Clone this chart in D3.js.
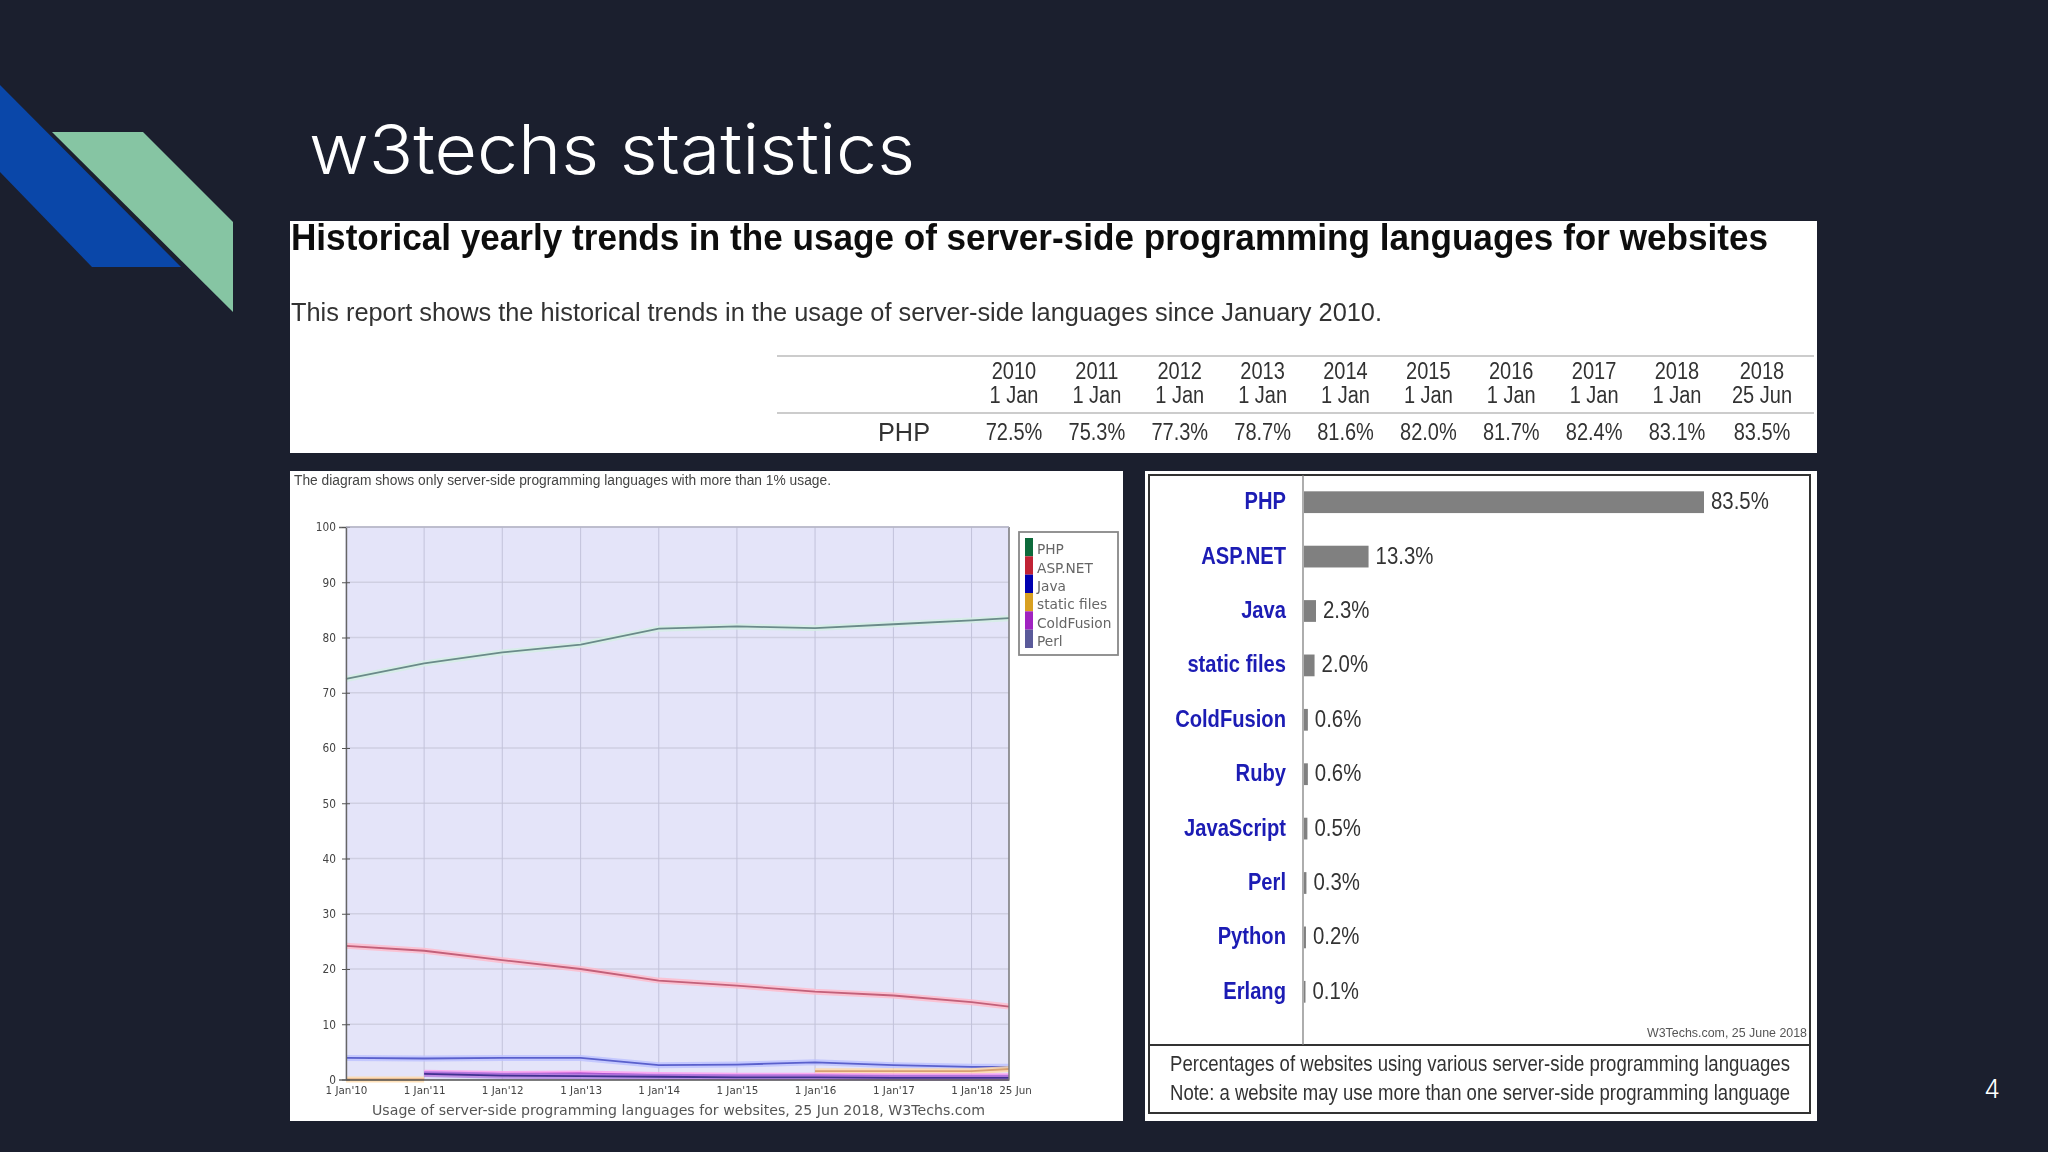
<!DOCTYPE html>
<html>
<head>
<meta charset="utf-8">
<script src="https://cdn.jsdelivr.net/npm/d3@7"></script>
<style>
  html, body { margin: 0; padding: 0; background: #1b1f2e; }
  svg { display: block; }
  text { font-family: "Liberation Sans", Arial, sans-serif; }
</style>
</head>
<body>
<svg id="slide" width="2048" height="1152"></svg>
<script>
// table at the top
const tableYears = ["2010", "2011", "2012", "2013", "2014", "2015", "2016", "2017", "2018", "2018"];
const tableDays = ["1 Jan", "1 Jan", "1 Jan", "1 Jan", "1 Jan", "1 Jan", "1 Jan", "1 Jan", "1 Jan", "25 Jun"];
const tableValues = ["72.5%", "75.3%", "77.3%", "78.7%", "81.6%", "82.0%", "81.7%", "82.4%", "83.1%", "83.5%"];

// line chart
const dates = ["2010-01-01", "2011-01-01", "2012-01-01", "2013-01-01", "2014-01-01", "2015-01-01", "2016-01-01", "2017-01-01", "2018-01-01", "2018-06-25"];
const dateLabels = ["1 Jan'10", "1 Jan'11", "1 Jan'12", "1 Jan'13", "1 Jan'14", "1 Jan'15", "1 Jan'16", "1 Jan'17", "1 Jan'18", "25 Jun"];
const phpLine = [72.5, 75.3, 77.3, 78.7, 81.6, 82.0, 81.7, 82.4, 83.1, 83.5];
const aspLine = [24.2, 23.3, 21.6, 20.0, 17.9, 17.0, 15.9, 15.2, 14.0, 13.2];
const javaLine = [3.9, 3.8, 3.9, 3.9, 2.6, 2.7, 3.1, 2.6, 2.3, 2.3];
const staticLine = [0, 0, null, null, null, null, 1.5, 1.5, 1.5, 1.9];
const coldFusionLine = [null, 1.2, 1.0, 1.1, 0.8, 0.7, 0.7, 0.6, 0.6, 0.6];
const perlLine = [null, 1.0, 0.7, 0.6, 0.5, 0.4, 0.4, 0.3, 0.3, 0.3];
const yTicks = [0, 10, 20, 30, 40, 50, 60, 70, 80, 90, 100];
const legendNames = ["PHP", "ASP.NET", "Java", "static files", "ColdFusion", "Perl"];
const legendColors = ["#0f6b3a", "#c02035", "#0000b0", "#d8a020", "#a020c0", "#5a5a9a"];

// bar chart
const barNames = ["PHP", "ASP.NET", "Java", "static files", "ColdFusion", "Ruby", "JavaScript", "Perl", "Python", "Erlang"];
const barValues = [83.5, 13.3, 2.3, 2.0, 0.6, 0.6, 0.5, 0.3, 0.2, 0.1];

const svg = d3.select("#slide");
const parseDate = d3.utcParse("%Y-%m-%d");

// squeeze text horizontally, the source screenshot is narrower than the real font
function squeeze(sel, k) {
  sel.each(function () {
    d3.select(this)
      .attr("textLength", this.getComputedTextLength() * k)
      .attr("lengthAdjust", "spacingAndGlyphs");
  });
  return sel;
}
function fit(sel, w) {
  return sel.attr("textLength", w).attr("lengthAdjust", "spacingAndGlyphs");
}

const defs = svg.append("defs");
defs.append("filter").attr("id", "soft")
  .attr("x", "-2%").attr("y", "-2%").attr("width", "104%").attr("height", "104%")
  .append("feGaussianBlur").attr("stdDeviation", 0.7);

// corner shapes and title
svg.append("polygon").attr("points", "0,85 181,267 92,267 0,172").attr("fill", "#0a47a9");
svg.append("polygon").attr("points", "52,132 143,132 233,222 233,312")
  .attr("fill", "#86c5a3");
svg.append("line").attr("x1", 50).attr("y1", 132).attr("x2", 185).attr("y2", 267)
  .attr("stroke", "#1b1f2e").attr("stroke-width", 1.5);

fit(svg.append("text").attr("x", 309).attr("y", 174)
  .attr("font-size", 69).attr("fill", "#fff")
  .style("font-family", "Inter").style("font-weight", 300)
  .text("w3techs statistics"), 606);

svg.append("text").attr("x", 1992).attr("y", 1098).attr("text-anchor", "middle")
  .attr("font-size", 25).attr("fill", "#fff").style("font-family", "Inter").style("font-weight", 300)
  .text("4");

// ---------- top table ----------
const topPanel = svg.append("g").attr("filter", "url(#soft)");
topPanel.append("rect").attr("x", 290).attr("y", 221).attr("width", 1527).attr("height", 232).attr("fill", "#fff");

fit(topPanel.append("text").attr("x", 291).attr("y", 250).attr("font-size", 36)
  .attr("font-weight", "bold").attr("fill", "#111")
  .text("Historical yearly trends in the usage of server-side programming languages for websites"), 1477);
fit(topPanel.append("text").attr("x", 291).attr("y", 321).attr("font-size", 26).attr("fill", "#333")
  .text("This report shows the historical trends in the usage of server-side languages since January 2010."), 1091);

[356, 413].forEach(ly => {
  topPanel.append("line").attr("x1", 777).attr("x2", 1814).attr("y1", ly).attr("y2", ly)
    .attr("stroke", "#bbb").attr("stroke-width", 1.6);
});

// last column is a bit further away than the others
const tableX = d3.scaleLinear().domain([0, 8, 9]).range([1014, 1677, 1762]);

squeeze(topPanel.selectAll(".year").data(tableYears).enter().append("text")
  .attr("x", (d, i) => tableX(i)).attr("y", 379).attr("text-anchor", "middle")
  .attr("font-size", 23).attr("fill", "#333").text(d => d), 0.87);
squeeze(topPanel.selectAll(".day").data(tableDays).enter().append("text")
  .attr("x", (d, i) => tableX(i)).attr("y", 403).attr("text-anchor", "middle")
  .attr("font-size", 23).attr("fill", "#333").text(d => d), 0.87);
squeeze(topPanel.selectAll(".val").data(tableValues).enter().append("text")
  .attr("x", (d, i) => tableX(i)).attr("y", 440).attr("text-anchor", "middle")
  .attr("font-size", 23).attr("fill", "#333").text(d => d), 0.87);
fit(topPanel.append("text").attr("x", 878).attr("y", 441).attr("font-size", 26).attr("fill", "#333").text("PHP"), 52);

// ---------- line chart ----------
const leftPanel = svg.append("g").attr("filter", "url(#soft)");
leftPanel.append("rect").attr("x", 290).attr("y", 471).attr("width", 833).attr("height", 650).attr("fill", "#fff");

fit(leftPanel.append("text").attr("x", 294).attr("y", 485).attr("font-size", 14).attr("fill", "#444")
  .text("The diagram shows only server-side programming languages with more than 1% usage."), 537);

const parsedDates = dates.map(parseDate);
const x = d3.scaleUtc().domain(d3.extent(parsedDates)).range([346, 1009]);
const y = d3.scaleLinear().domain([0, 100]).range([1079.5, 527]);

leftPanel.append("rect").attr("x", x.range()[0]).attr("y", y(100))
  .attr("width", x.range()[1] - x.range()[0]).attr("height", y(0) - y(100))
  .attr("fill", "#e4e4f9");

// grid
leftPanel.selectAll(".gy").data(yTicks).enter().append("line")
  .attr("x1", x.range()[0]).attr("x2", x.range()[1])
  .attr("y1", d => y(d)).attr("y2", d => y(d))
  .attr("stroke", "#cfcfe2").attr("stroke-width", 1.4);
leftPanel.selectAll(".gx").data(parsedDates).enter().append("line")
  .attr("x1", d => x(d)).attr("x2", d => x(d))
  .attr("y1", y(0)).attr("y2", y(100))
  .attr("stroke", "#c2c2da").attr("stroke-width", 1);

const lineGen = d3.line()
  .defined(d => d.v !== null)
  .x(d => x(d.t))
  .y(d => y(d.v));

const series = [
  { values: phpLine, core: "#6a8a8a", halo: "#d3efe4" },
  { values: aspLine, core: "#c2607a", halo: "#ffb9c9" },
  { values: javaLine, core: "#5a60cc", halo: "#bcc0ff" },
  { values: staticLine, core: "#d8a070", halo: "#ffd9a8" },
  { values: coldFusionLine, core: "#a832c4", halo: "#ff9cf0" },
  { values: perlLine, core: "#40308f", halo: "#b080e0" }
];

series.forEach(s => {
  const pts = s.values.map((v, i) => ({ t: parsedDates[i], v: v }));
  leftPanel.append("path").attr("d", lineGen(pts)).attr("fill", "none")
    .attr("stroke", s.halo).attr("stroke-width", 6).attr("opacity", 0.8);
  leftPanel.append("path").attr("d", lineGen(pts)).attr("fill", "none")
    .attr("stroke", s.core).attr("stroke-width", 1.8);
});

// axes
const yAxis = d3.axisLeft(y).tickValues(yTicks).tickSize(7).tickPadding(3);
const yG = leftPanel.append("g").attr("transform", `translate(${x.range()[0]},0)`).call(yAxis);
yG.select(".domain").attr("stroke", "#666").attr("stroke-width", 1.4);
yG.selectAll("line").attr("stroke", "#555").attr("x2", 4).attr("x1", -4);
yG.selectAll("text").attr("font-size", 12).attr("fill", "#444").style("font-family", "DejaVu Sans");
squeeze(yG.selectAll("text"), 0.88);

const xAxis = d3.axisBottom(x).tickValues(parsedDates).tickSize(0).tickPadding(7)
  .tickFormat((d, i) => dateLabels[i]);
const xG = leftPanel.append("g").attr("transform", `translate(0,${y(0)})`).call(xAxis);
xG.select(".domain").attr("stroke", "#555").attr("stroke-width", 1.6);
xG.selectAll("text").attr("font-size", 11).attr("fill", "#444").style("font-family", "DejaVu Sans");
squeeze(xG.selectAll("text"), 0.94);
// last two dates sit side by side in the source, nudge the final one clear
xG.selectAll(".tick").filter((d, i) => i === 9).select("text").attr("dx", 6);

leftPanel.append("line").attr("x1", x.range()[1]).attr("x2", x.range()[1])
  .attr("y1", y(0)).attr("y2", y(100)).attr("stroke", "#777").attr("stroke-width", 1.4);
leftPanel.append("line").attr("x1", x.range()[0]).attr("x2", x.range()[1])
  .attr("y1", y(100)).attr("y2", y(100)).attr("stroke", "#b4b4c4").attr("stroke-width", 1.4);

fit(leftPanel.append("text").attr("x", 372).attr("y", 1115).attr("font-size", 13.5).attr("fill", "#555")
  .style("font-family", "DejaVu Sans")
  .text("Usage of server-side programming languages for websites, 25 Jun 2018, W3Techs.com"), 613);

// legend
leftPanel.append("rect").attr("x", 1019).attr("y", 532).attr("width", 99).attr("height", 123)
  .attr("fill", "#fff").attr("stroke", "#888").attr("stroke-width", 1.8);
const legendY = d3.scaleBand().domain(legendNames).range([538, 648]);
leftPanel.selectAll(".sw").data(legendNames).enter().append("rect")
  .attr("x", 1025).attr("width", 8)
  .attr("y", d => legendY(d)).attr("height", legendY.bandwidth())
  .attr("fill", (d, i) => legendColors[i]);
squeeze(leftPanel.selectAll(".lg").data(legendNames).enter().append("text")
  .attr("x", 1037).attr("y", d => legendY(d) + legendY.bandwidth() / 2 + 7)
  .attr("font-size", 14).attr("fill", "#666").style("font-family", "DejaVu Sans")
  .text(d => d), 0.98);

// ---------- bar chart ----------
const rightPanel = svg.append("g").attr("filter", "url(#soft)");
rightPanel.append("rect").attr("x", 1145).attr("y", 471).attr("width", 672).attr("height", 650).attr("fill", "#fff");
rightPanel.append("rect").attr("x", 1149).attr("y", 475).attr("width", 661).attr("height", 638)
  .attr("fill", "#fff").attr("stroke", "#333").attr("stroke-width", 2);
rightPanel.append("line").attr("x1", 1149).attr("x2", 1810).attr("y1", 1045).attr("y2", 1045)
  .attr("stroke", "#333").attr("stroke-width", 2);

const barX = d3.scaleLinear().domain([0, 83.5]).range([1304, 1703]);
const barY = d3.scaleBand().domain(barNames).range([475, 1019]).paddingInner(0.6).paddingOuter(0.3);

rightPanel.append("line").attr("x1", 1303).attr("x2", 1303).attr("y1", 475).attr("y2", 1045)
  .attr("stroke", "#777").attr("stroke-width", 1.2);

rightPanel.selectAll(".bar").data(barNames).enter().append("rect")
  .attr("x", barX(0))
  .attr("y", d => barY(d))
  .attr("width", (d, i) => barX(barValues[i]) - barX(0) + 1)
  .attr("height", barY.bandwidth())
  .attr("fill", "#808080");

squeeze(rightPanel.selectAll(".name").data(barNames).enter().append("text")
  .attr("x", 1286).attr("y", d => barY(d) + barY.bandwidth() / 2 + 7)
  .attr("text-anchor", "end").attr("font-size", 24).attr("font-weight", "bold")
  .attr("fill", "#1a1ab4").text(d => d), 0.84);

squeeze(rightPanel.selectAll(".pct").data(barNames).enter().append("text")
  .attr("x", (d, i) => barX(barValues[i]) + 8)
  .attr("y", d => barY(d) + barY.bandwidth() / 2 + 7)
  .attr("font-size", 24).attr("fill", "#333")
  .text((d, i) => d3.format(".1f")(barValues[i]) + "%"), 0.85);

fit(rightPanel.append("text").attr("x", 1807).attr("y", 1037).attr("text-anchor", "end")
  .attr("font-size", 13.5).attr("fill", "#555").text("W3Techs.com, 25 June 2018"), 160);
fit(rightPanel.append("text").attr("x", 1170).attr("y", 1071).attr("font-size", 22.5).attr("fill", "#333")
  .text("Percentages of websites using various server-side programming languages"), 620);
fit(rightPanel.append("text").attr("x", 1170).attr("y", 1100).attr("font-size", 22.5).attr("fill", "#333")
  .text("Note: a website may use more than one server-side programming language"), 620);
</script>
</body>
</html>
